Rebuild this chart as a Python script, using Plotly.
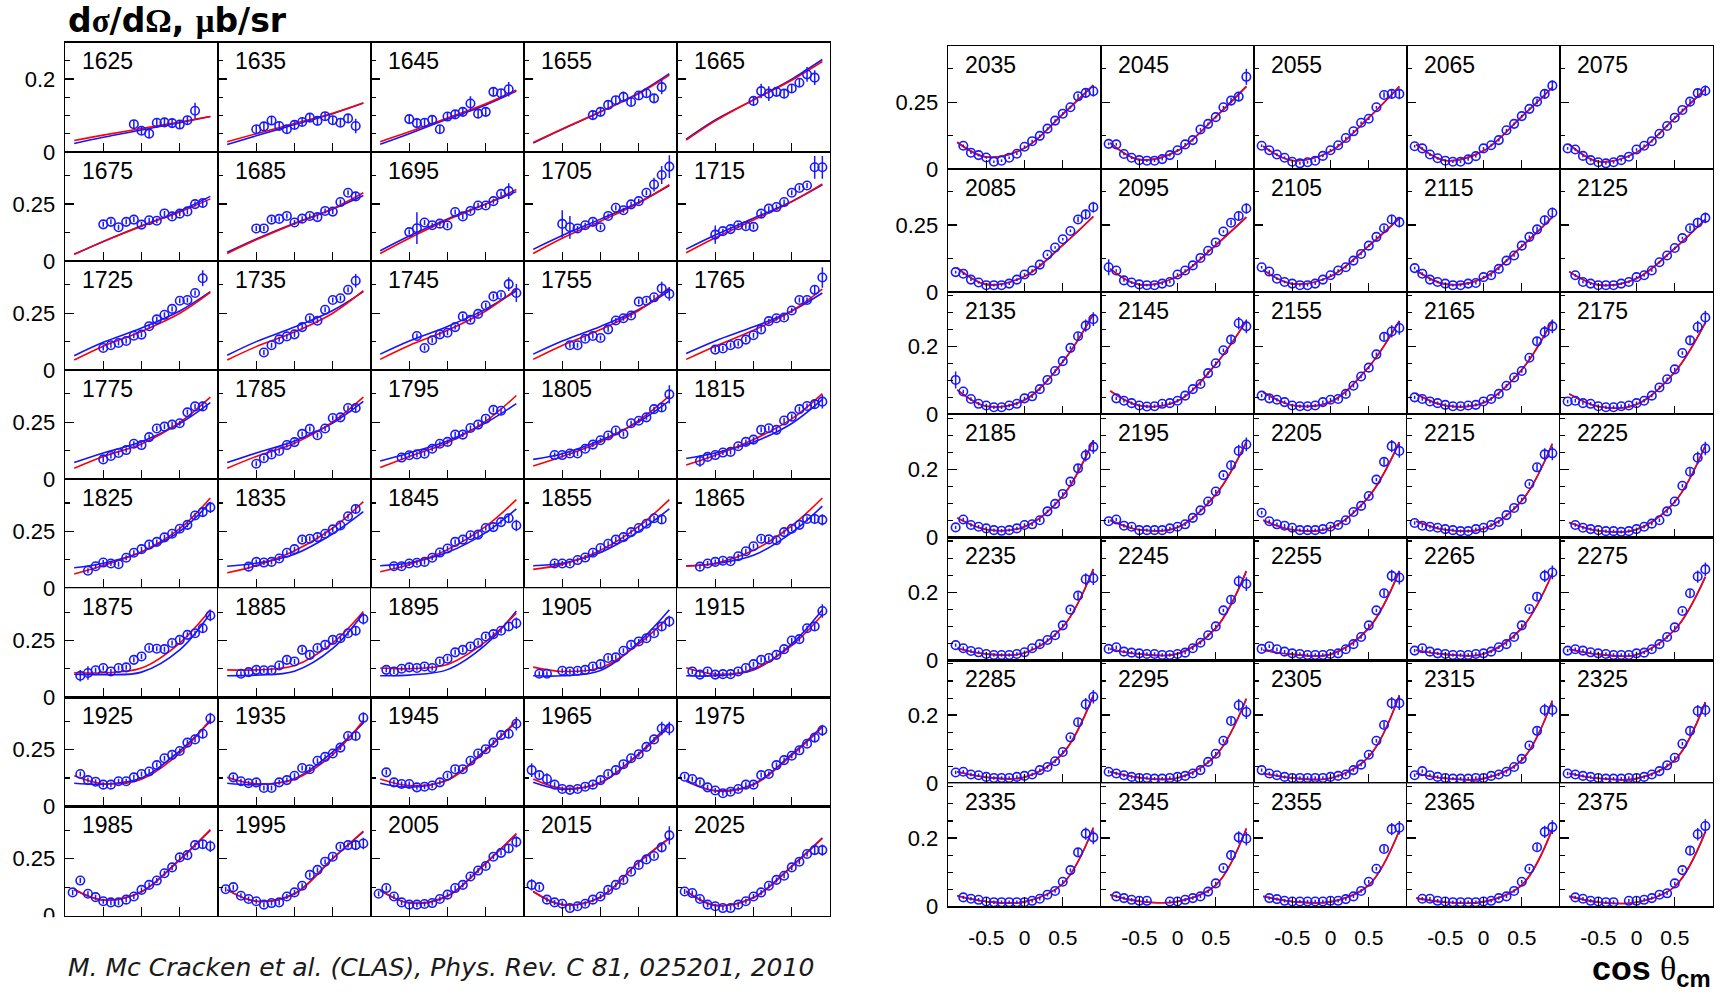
import plotly.graph_objects as go

W_PX, H_PX = 1723, 994

# ---------------- data ----------------
LEFT_ENERGIES = [1625, 1635, 1645, 1655, 1665,
                 1675, 1685, 1695, 1705, 1715,
                 1725, 1735, 1745, 1755, 1765,
                 1775, 1785, 1795, 1805, 1815,
                 1825, 1835, 1845, 1855, 1865,
                 1875, 1885, 1895, 1905, 1915,
                 1925, 1935, 1945, 1965, 1975,
                 1985, 1995, 2005, 2015, 2025]
RIGHT_ENERGIES = [2035, 2045, 2055, 2065, 2075,
                  2085, 2095, 2105, 2115, 2125,
                  2135, 2145, 2155, 2165, 2175,
                  2185, 2195, 2205, 2215, 2225,
                  2235, 2245, 2255, 2265, 2275,
                  2285, 2295, 2305, 2315, 2325,
                  2335, 2345, 2355, 2365, 2375]

COS_BINS = [-0.9, -0.8, -0.7, -0.6, -0.5, -0.4, -0.3, -0.2, -0.1, 0.0,
            0.1, 0.2, 0.3, 0.4, 0.5, 0.6, 0.7, 0.8, 0.9]

# energy -> (first cos bin, d sigma / d Omega values in consecutive bins)
DATA = {
    1625: (-0.1, [0.076, 0.058, 0.050, 0.080, 0.081, 0.079, 0.075, 0.087, 0.113]),
    1635: (-0.5, [0.062, 0.070, 0.086, 0.071, 0.062, 0.074, 0.082, 0.094, 0.085, 0.098, 0.087, 0.080, 0.092, 0.071]),
    1645: (-0.5, [0.090, 0.079, 0.080, 0.088, 0.062, 0.097, 0.103, 0.110, 0.133, 0.105, 0.110, 0.165, 0.161, 0.172]),
    1655: (-0.1, [0.101, 0.110, 0.129, 0.142, 0.151, 0.137, 0.155, 0.161, 0.147, 0.178]),
    1665: (0.0, [0.140, 0.167, 0.160, 0.165, 0.160, 0.174, 0.190, 0.213, 0.204]),
    1675: (-0.5, [0.161, 0.172, 0.148, 0.172, 0.182, 0.160, 0.179, 0.177, 0.209, 0.196, 0.208, 0.218, 0.250, 0.255]),
    1685: (-0.5, [0.143, 0.143, 0.182, 0.185, 0.198, 0.169, 0.186, 0.198, 0.193, 0.220, 0.217, 0.259, 0.300, 0.284]),
    1695: (-0.5, [0.127, 0.144, 0.169, 0.157, 0.164, 0.156, 0.215, 0.196, 0.220, 0.244, 0.244, 0.263, 0.295, 0.307]),
    1705: (-0.5, [0.163, 0.148, 0.143, 0.157, 0.172, 0.148, 0.198, 0.234, 0.223, 0.249, 0.263, 0.300, 0.336, 0.378, 0.415]),
    1715: (-0.5, [0.116, 0.131, 0.140, 0.157, 0.153, 0.150, 0.208, 0.230, 0.237, 0.259, 0.300, 0.321, 0.332, 0.412, 0.412]),
    1725: (-0.5, [0.097, 0.109, 0.119, 0.128, 0.151, 0.156, 0.193, 0.223, 0.243, 0.269, 0.305, 0.308, 0.339, 0.404]),
    1735: (-0.4, [0.077, 0.109, 0.135, 0.148, 0.157, 0.189, 0.228, 0.217, 0.265, 0.308, 0.316, 0.353, 0.393]),
    1745: (-0.4, [0.150, 0.097, 0.131, 0.157, 0.164, 0.189, 0.236, 0.221, 0.247, 0.284, 0.324, 0.330, 0.378, 0.339]),
    1755: (-0.4, [0.109, 0.109, 0.138, 0.150, 0.141, 0.179, 0.218, 0.228, 0.240, 0.301, 0.305, 0.320, 0.359, 0.335]),
    1765: (-0.5, [0.090, 0.095, 0.109, 0.116, 0.134, 0.153, 0.179, 0.215, 0.228, 0.231, 0.262, 0.308, 0.308, 0.353, 0.407]),
    1775: (-0.5, [0.087, 0.102, 0.115, 0.128, 0.156, 0.150, 0.185, 0.223, 0.231, 0.240, 0.246, 0.294, 0.320, 0.320]),
    1785: (-0.5, [0.068, 0.092, 0.109, 0.124, 0.150, 0.163, 0.199, 0.221, 0.193, 0.223, 0.269, 0.272, 0.313, 0.313]),
    1795: (-0.6, [0.095, 0.105, 0.109, 0.112, 0.134, 0.156, 0.164, 0.196, 0.196, 0.225, 0.240, 0.266, 0.305, 0.301]),
    1805: (-0.6, [0.106, 0.106, 0.113, 0.113, 0.134, 0.152, 0.171, 0.192, 0.214, 0.199, 0.246, 0.257, 0.272, 0.308, 0.315, 0.373]),
    1815: (-0.7, [0.080, 0.098, 0.106, 0.117, 0.120, 0.145, 0.164, 0.174, 0.217, 0.224, 0.217, 0.258, 0.275, 0.308, 0.322, 0.330, 0.341]),
    1825: (-0.7, [0.077, 0.097, 0.113, 0.109, 0.106, 0.134, 0.156, 0.172, 0.192, 0.204, 0.224, 0.240, 0.262, 0.279, 0.320, 0.335, 0.356]),
    1835: (-0.6, [0.095, 0.116, 0.113, 0.116, 0.131, 0.156, 0.172, 0.214, 0.218, 0.225, 0.240, 0.259, 0.276, 0.317, 0.349]),
    1845: (-0.7, [0.097, 0.097, 0.109, 0.112, 0.116, 0.134, 0.157, 0.175, 0.204, 0.214, 0.233, 0.236, 0.265, 0.269, 0.291, 0.308, 0.276]),
    1855: (-0.6, [0.109, 0.109, 0.109, 0.124, 0.135, 0.156, 0.177, 0.196, 0.214, 0.225, 0.247, 0.265, 0.284, 0.308, 0.303]),
    1865: (-0.7, [0.095, 0.109, 0.116, 0.121, 0.119, 0.141, 0.163, 0.185, 0.218, 0.215, 0.211, 0.247, 0.262, 0.279, 0.305, 0.305, 0.301]),
    1875: (-0.8, [0.095, 0.107, 0.119, 0.129, 0.114, 0.129, 0.132, 0.165, 0.180, 0.217, 0.214, 0.212, 0.239, 0.253, 0.275, 0.282, 0.304, 0.360]),
    1885: (-0.7, [0.104, 0.111, 0.121, 0.119, 0.119, 0.140, 0.165, 0.158, 0.209, 0.187, 0.217, 0.231, 0.253, 0.260, 0.282, 0.293, 0.345]),
    1895: (-0.8, [0.121, 0.114, 0.126, 0.132, 0.129, 0.136, 0.129, 0.158, 0.170, 0.198, 0.209, 0.224, 0.239, 0.268, 0.278, 0.293, 0.312, 0.326]),
    1905: (-0.8, [0.104, 0.104, None, 0.117, 0.114, 0.117, 0.121, 0.136, 0.146, 0.173, 0.176, 0.205, 0.231, 0.246, 0.260, 0.282, 0.312, 0.334]),
    1915: (-0.8, [0.114, 0.100, 0.114, 0.100, 0.102, 0.102, 0.114, 0.129, 0.146, 0.165, 0.173, 0.187, 0.212, 0.250, 0.256, 0.304, 0.312, 0.380]),
    1925: (-0.8, [0.143, 0.116, 0.109, 0.096, 0.096, 0.111, 0.111, 0.128, 0.143, 0.154, 0.182, 0.212, 0.227, 0.244, 0.281, 0.295, 0.320, 0.387]),
    1935: (-0.8, [0.128, 0.111, 0.102, 0.106, 0.081, 0.081, 0.106, 0.116, 0.135, 0.169, 0.164, 0.201, 0.218, 0.233, 0.259, 0.310, 0.310, 0.390]),
    1945: (-0.8, [0.150, 0.106, 0.099, 0.099, 0.084, 0.087, 0.092, 0.106, 0.135, 0.164, 0.164, 0.201, 0.233, 0.252, 0.281, 0.314, 0.320, 0.364]),
    1965: (-0.9, [0.160, 0.138, 0.121, 0.096, 0.077, 0.073, 0.077, 0.087, 0.096, 0.116, 0.143, 0.160, 0.186, 0.212, 0.230, 0.262, 0.295, 0.343, 0.343]),
    1975: (-0.9, [0.131, 0.121, 0.106, 0.084, 0.070, 0.058, 0.065, 0.077, 0.096, 0.096, 0.138, 0.143, 0.182, 0.204, 0.223, 0.247, 0.276, 0.303, 0.335]),
    1985: (-0.9, [0.102, 0.154, 0.096, 0.081, 0.063, 0.058, 0.058, 0.070, 0.084, 0.113, 0.135, 0.154, 0.186, 0.212, 0.256, 0.266, 0.310, 0.314, 0.305]),
    1995: (-0.9, [0.116, 0.125, 0.087, 0.073, 0.063, 0.048, 0.055, 0.058, 0.084, 0.102, 0.131, 0.179, 0.201, 0.237, 0.259, 0.303, 0.310, 0.310, 0.317]),
    2005: (-0.9, [0.096, 0.121, 0.084, 0.058, 0.048, 0.048, 0.051, 0.055, 0.073, 0.092, 0.121, 0.135, 0.172, 0.198, 0.218, 0.259, 0.276, 0.295, 0.324]),
    2015: (-0.9, [0.135, 0.125, 0.070, 0.058, 0.052, 0.033, 0.041, 0.052, 0.070, 0.084, 0.113, 0.135, 0.157, 0.193, 0.223, 0.247, 0.262, 0.300, 0.353]),
    2025: (-0.9, [0.106, 0.099, 0.073, 0.048, 0.041, 0.033, 0.033, 0.048, 0.063, 0.084, 0.102, 0.131, 0.157, 0.175, 0.212, 0.237, 0.271, 0.288, 0.288]),
    2035: (-0.8, [0.087, 0.061, 0.052, 0.043, 0.027, 0.031, 0.042, 0.057, 0.083, 0.104, 0.124, 0.151, 0.181, 0.207, 0.231, 0.272, 0.285, 0.291]),
    2045: (-0.9, [0.094, 0.092, 0.056, 0.042, 0.033, 0.031, 0.031, 0.037, 0.052, 0.070, 0.092, 0.108, 0.148, 0.169, 0.194, 0.231, 0.256, 0.271, 0.345]),
    2055: (-0.9, [0.087, 0.070, 0.054, 0.042, 0.027, 0.021, 0.025, 0.031, 0.049, 0.070, 0.089, 0.116, 0.141, 0.173, 0.188, 0.231, 0.277, 0.281, 0.281]),
    2065: (-0.9, [0.085, 0.077, 0.054, 0.040, 0.031, 0.027, 0.027, 0.036, 0.048, 0.077, 0.089, 0.108, 0.145, 0.169, 0.198, 0.225, 0.252, 0.281, 0.312]),
    2075: (-0.9, [0.077, 0.073, 0.049, 0.033, 0.025, 0.021, 0.025, 0.033, 0.046, 0.073, 0.087, 0.104, 0.132, 0.161, 0.192, 0.221, 0.252, 0.284, 0.293]),
    2085: (-0.9, [0.074, 0.068, 0.046, 0.035, 0.025, 0.025, 0.025, 0.031, 0.046, 0.065, 0.080, 0.102, 0.139, 0.166, 0.197, 0.228, 0.271, 0.290, 0.317]),
    2095: (-0.9, [0.092, 0.080, 0.043, 0.035, 0.028, 0.025, 0.025, 0.031, 0.037, 0.065, 0.080, 0.099, 0.127, 0.154, 0.185, 0.226, 0.259, 0.284, 0.312]),
    2105: (-0.9, [0.092, 0.076, 0.049, 0.037, 0.031, 0.025, 0.025, 0.031, 0.046, 0.062, 0.080, 0.092, 0.117, 0.142, 0.173, 0.206, 0.238, 0.271, 0.261]),
    2115: (-0.9, [0.089, 0.068, 0.046, 0.037, 0.031, 0.025, 0.025, 0.031, 0.033, 0.055, 0.062, 0.086, 0.117, 0.136, 0.173, 0.206, 0.234, 0.268, 0.296]),
    2125: (-0.8, [0.062, 0.037, 0.031, 0.025, 0.025, 0.025, 0.031, 0.037, 0.055, 0.062, 0.080, 0.111, 0.136, 0.164, 0.201, 0.238, 0.259, 0.277]),
    2135: (-0.9, [0.102, 0.068, 0.046, 0.032, 0.027, 0.022, 0.022, 0.027, 0.032, 0.048, 0.054, 0.075, 0.102, 0.128, 0.157, 0.196, 0.230, 0.261, 0.280]),
    2145: (-0.8, [0.048, 0.041, 0.034, 0.027, 0.024, 0.025, 0.032, 0.034, 0.041, 0.056, 0.075, 0.090, 0.122, 0.151, 0.189, 0.220, 0.268, 0.259]),
    2155: (-0.9, [0.056, 0.048, 0.044, 0.037, 0.027, 0.025, 0.025, 0.027, 0.037, 0.044, 0.046, 0.061, 0.085, 0.112, 0.138, 0.177, 0.228, 0.244, 0.254]),
    2165: (-0.9, [0.051, 0.046, 0.039, 0.034, 0.029, 0.025, 0.025, 0.027, 0.029, 0.039, 0.046, 0.061, 0.085, 0.109, 0.128, 0.167, 0.215, 0.242, 0.259]),
    2175: (-0.9, [0.039, 0.041, 0.034, 0.032, 0.025, 0.022, 0.022, 0.025, 0.027, 0.034, 0.041, 0.056, 0.080, 0.104, 0.133, 0.181, 0.218, 0.257, 0.285]),
    2185: (-0.9, [0.030, 0.053, 0.037, 0.032, 0.027, 0.022, 0.020, 0.022, 0.027, 0.037, 0.039, 0.051, 0.077, 0.099, 0.128, 0.164, 0.203, 0.241, 0.266]),
    2195: (-0.9, [0.048, 0.053, 0.035, 0.032, 0.022, 0.022, 0.022, 0.022, 0.027, 0.032, 0.039, 0.058, 0.080, 0.106, 0.135, 0.183, 0.212, 0.254, 0.273]),
    2205: (-0.9, [0.073, 0.048, 0.039, 0.035, 0.029, 0.022, 0.022, 0.022, 0.025, 0.032, 0.037, 0.051, 0.075, 0.093, 0.122, 0.170, 0.222, 0.268, 0.254]),
    2215: (-0.9, [0.043, 0.035, 0.032, 0.029, 0.025, 0.022, 0.019, 0.019, 0.025, 0.029, 0.037, 0.046, 0.066, 0.087, 0.112, 0.157, 0.206, 0.244, 0.247]),
    2225: (-0.8, [0.037, 0.029, 0.025, 0.022, 0.019, 0.019, 0.017, 0.019, 0.025, 0.032, 0.041, 0.051, 0.077, 0.106, 0.152, 0.193, 0.234, 0.261]),
    2235: (-0.9, [0.045, 0.036, 0.028, 0.024, 0.019, 0.016, 0.016, 0.016, 0.019, 0.024, 0.036, 0.048, 0.060, 0.074, 0.103, 0.149, 0.190, 0.238, 0.241]),
    2245: (-0.9, [0.034, 0.039, 0.026, 0.023, 0.021, 0.019, 0.019, 0.016, 0.016, 0.019, 0.023, 0.036, 0.052, 0.074, 0.100, 0.147, 0.178, 0.232, 0.224]),
    2255: (-0.9, [0.034, 0.042, 0.033, 0.026, 0.021, 0.019, 0.016, 0.016, 0.016, 0.019, 0.021, 0.033, 0.048, 0.069, 0.103, 0.147, 0.197, 0.248, 0.243]),
    2265: (-0.9, [0.029, 0.036, 0.026, 0.021, 0.019, 0.016, 0.016, 0.016, 0.019, 0.021, 0.026, 0.039, 0.048, 0.069, 0.103, 0.151, 0.187, 0.248, 0.258]),
    2275: (-0.9, [0.029, 0.033, 0.029, 0.024, 0.021, 0.019, 0.016, 0.016, 0.016, 0.021, 0.023, 0.033, 0.048, 0.069, 0.097, 0.145, 0.197, 0.246, 0.267]),
    2285: (-0.9, [0.032, 0.034, 0.026, 0.024, 0.019, 0.016, 0.016, 0.016, 0.019, 0.022, 0.026, 0.039, 0.048, 0.065, 0.092, 0.135, 0.179, 0.232, 0.254]),
    2295: (-0.9, [0.034, 0.029, 0.024, 0.019, 0.016, 0.016, 0.014, 0.014, 0.016, 0.019, 0.022, 0.029, 0.039, 0.063, 0.087, 0.125, 0.183, 0.229, 0.209]),
    2305: (-0.9, [0.039, 0.029, 0.024, 0.019, 0.016, 0.016, 0.016, 0.016, 0.016, 0.019, 0.022, 0.026, 0.039, 0.055, 0.084, 0.125, 0.171, 0.235, 0.235]),
    2315: (-0.9, [0.024, 0.036, 0.024, 0.019, 0.016, 0.014, 0.014, 0.014, 0.016, 0.016, 0.022, 0.026, 0.034, 0.048, 0.072, 0.111, 0.154, 0.215, 0.215]),
    2325: (-0.9, [0.029, 0.026, 0.022, 0.019, 0.016, 0.014, 0.014, 0.014, 0.016, 0.016, 0.019, 0.026, 0.036, 0.053, 0.075, 0.116, 0.154, 0.212, 0.215]),
    2335: (-0.8, [0.026, 0.022, 0.019, 0.014, 0.012, 0.012, 0.012, 0.012, 0.012, 0.016, 0.022, 0.034, 0.045, 0.072, 0.106, 0.158, 0.213, 0.202]),
    2345: (-0.8, [0.029, 0.024, 0.019, 0.016, 0.016, None, None, 0.014, 0.014, 0.019, 0.024, 0.029, 0.043, 0.067, 0.112, 0.150, 0.202, 0.198]),
    2355: (-0.8, [0.024, 0.021, 0.016, 0.014, 0.014, 0.014, 0.014, 0.014, 0.016, 0.016, 0.021, 0.029, 0.045, 0.072, 0.110, 0.168, 0.226, 0.230]),
    2365: (-0.8, [0.022, 0.022, 0.016, 0.014, 0.012, 0.012, 0.012, 0.012, 0.014, 0.016, 0.024, 0.029, 0.045, 0.072, 0.110, 0.173, 0.218, 0.232]),
    2375: (-0.8, [0.026, 0.022, 0.016, 0.014, 0.012, 0.012, None, 0.016, 0.016, 0.019, 0.024, 0.034, 0.038, 0.067, 0.106, 0.163, 0.211, 0.235]),
}

# model curves, sampled at these cos(theta) values
CURVE_COS = [-0.88, -0.5, 0.0, 0.5, 0.9]
RED = {
    1625: [0.031, 0.046, 0.064, 0.082, 0.097], 1635: [0.028, 0.050, 0.078, 0.106, 0.134],
    1645: [0.028, 0.055, 0.093, 0.132, 0.170], 1655: [0.026, 0.063, 0.110, 0.160, 0.211],
    1665: [0.032, 0.085, 0.143, 0.197, 0.248],
    1675: [0.029, 0.085, 0.153, 0.215, 0.273], 1685: [0.033, 0.093, 0.164, 0.230, 0.300],
    1695: [0.033, 0.100, 0.180, 0.250, 0.314], 1705: [0.033, 0.100, 0.175, 0.255, 0.335],
    1715: [0.036, 0.102, 0.180, 0.260, 0.339],
    1725: [0.044, 0.105, 0.170, 0.250, 0.342], 1735: [0.044, 0.103, 0.167, 0.250, 0.349],
    1745: [0.047, 0.108, 0.175, 0.260, 0.356], 1755: [0.047, 0.108, 0.178, 0.262, 0.361],
    1765: [0.047, 0.105, 0.175, 0.260, 0.356],
    1775: [0.048, 0.100, 0.155, 0.250, 0.361], 1785: [0.048, 0.100, 0.158, 0.252, 0.361],
    1795: [0.051, 0.100, 0.160, 0.255, 0.368], 1805: [0.058, 0.100, 0.163, 0.258, 0.366],
    1815: [0.062, 0.105, 0.174, 0.265, 0.376],
    1825: [0.063, 0.100, 0.160, 0.262, 0.397], 1835: [0.068, 0.100, 0.165, 0.265, 0.381],
    1845: [0.073, 0.105, 0.170, 0.272, 0.390], 1855: [0.083, 0.105, 0.167, 0.272, 0.390],
    1865: [0.097, 0.110, 0.167, 0.275, 0.397],
    1875: [0.108, 0.108, 0.129, 0.239, 0.385], 1885: [0.121, 0.121, 0.140, 0.240, 0.378],
    1895: [0.129, 0.126, 0.145, 0.245, 0.370], 1905: [0.133, 0.114, 0.130, 0.235, 0.356],
    1915: [0.130, 0.102, 0.125, 0.228, 0.363],
    1925: [0.135, 0.100, 0.120, 0.235, 0.383], 1935: [0.128, 0.100, 0.120, 0.228, 0.378],
    1945: [0.121, 0.092, 0.115, 0.245, 0.378], 1965: [0.121, 0.080, 0.105, 0.228, 0.353],
    1975: [0.116, 0.068, 0.095, 0.225, 0.349],
    1985: [0.116, 0.068, 0.105, 0.245, 0.378], 1995: [0.113, 0.063, 0.095, 0.250, 0.372],
    2005: [0.113, 0.055, 0.085, 0.230, 0.361], 2015: [0.106, 0.048, 0.080, 0.235, 0.339],
    2025: [0.109, 0.045, 0.078, 0.215, 0.339],
    2035: [0.100, 0.045, 0.078, 0.205, 0.314], 2045: [0.098, 0.035, 0.068, 0.195, 0.309],
    2055: [0.085, 0.032, 0.066, 0.192, 0.309], 2065: [0.092, 0.032, 0.068, 0.196, 0.305],
    2075: [0.092, 0.028, 0.062, 0.190, 0.300],
    2085: [0.090, 0.028, 0.058, 0.175, 0.282], 2095: [0.086, 0.027, 0.058, 0.175, 0.280],
    2105: [0.082, 0.030, 0.058, 0.172, 0.275], 2115: [0.080, 0.029, 0.052, 0.170, 0.280],
    2125: [0.076, 0.026, 0.050, 0.163, 0.272],
    2135: [0.073, 0.025, 0.043, 0.155, 0.295], 2145: [0.070, 0.027, 0.040, 0.148, 0.275],
    2155: [0.066, 0.028, 0.038, 0.140, 0.275], 2165: [0.061, 0.027, 0.035, 0.132, 0.275],
    2175: [0.061, 0.024, 0.030, 0.125, 0.270],
    2185: [0.058, 0.024, 0.032, 0.122, 0.285], 2195: [0.051, 0.023, 0.030, 0.126, 0.280],
    2205: [0.051, 0.023, 0.028, 0.120, 0.280], 2215: [0.048, 0.023, 0.026, 0.108, 0.275],
    2225: [0.044, 0.020, 0.024, 0.105, 0.270],
    2235: [0.036, 0.019, 0.022, 0.098, 0.268], 2245: [0.034, 0.019, 0.020, 0.095, 0.262],
    2255: [0.030, 0.018, 0.018, 0.095, 0.262], 2265: [0.030, 0.018, 0.019, 0.095, 0.255],
    2275: [0.033, 0.018, 0.017, 0.090, 0.245],
    2285: [0.034, 0.018, 0.018, 0.088, 0.258], 2295: [0.034, 0.017, 0.016, 0.082, 0.248],
    2305: [0.030, 0.016, 0.015, 0.078, 0.258], 2315: [0.029, 0.015, 0.014, 0.068, 0.242],
    2325: [0.029, 0.015, 0.014, 0.068, 0.238],
    2335: [0.031, 0.014, 0.013, 0.066, 0.230], 2345: [0.034, 0.015, 0.014, 0.062, 0.228],
    2355: [0.029, 0.014, 0.013, 0.062, 0.222], 2365: [0.024, 0.012, 0.013, 0.062, 0.226],
    2375: [0.029, 0.012, 0.012, 0.058, 0.218],
}
BLUE = {
    1625: [0.023, 0.040, 0.060, 0.080, 0.097], 1635: [0.020, 0.044, 0.075, 0.105, 0.134],
    1645: [0.021, 0.050, 0.090, 0.129, 0.167], 1655: [0.024, 0.062, 0.110, 0.162, 0.215],
    1665: [0.035, 0.088, 0.143, 0.200, 0.254],
    1675: [0.029, 0.086, 0.155, 0.220, 0.284], 1685: [0.038, 0.097, 0.166, 0.228, 0.288],
    1695: [0.045, 0.110, 0.185, 0.250, 0.305], 1705: [0.051, 0.112, 0.184, 0.258, 0.332],
    1715: [0.052, 0.114, 0.188, 0.262, 0.335],
    1725: [0.063, 0.122, 0.185, 0.260, 0.345], 1735: [0.065, 0.125, 0.189, 0.262, 0.345],
    1745: [0.070, 0.128, 0.192, 0.268, 0.349], 1755: [0.070, 0.128, 0.192, 0.266, 0.349],
    1765: [0.073, 0.128, 0.190, 0.260, 0.339],
    1775: [0.073, 0.115, 0.165, 0.245, 0.337], 1785: [0.073, 0.115, 0.168, 0.247, 0.342],
    1795: [0.080, 0.115, 0.168, 0.248, 0.332], 1805: [0.087, 0.112, 0.171, 0.252, 0.344],
    1815: [0.091, 0.115, 0.163, 0.245, 0.351],
    1825: [0.090, 0.110, 0.160, 0.250, 0.378], 1835: [0.097, 0.110, 0.150, 0.240, 0.337],
    1845: [0.099, 0.112, 0.158, 0.245, 0.349], 1855: [0.099, 0.110, 0.157, 0.250, 0.349],
    1865: [0.099, 0.108, 0.145, 0.245, 0.361],
    1875: [0.102, 0.100, 0.111, 0.209, 0.370], 1885: [0.095, 0.098, 0.115, 0.215, 0.370],
    1895: [0.095, 0.098, 0.122, 0.232, 0.380], 1905: [0.095, 0.095, 0.118, 0.243, 0.385],
    1915: [0.095, 0.095, 0.120, 0.235, 0.385],
    1925: [0.102, 0.098, 0.125, 0.245, 0.375], 1935: [0.102, 0.096, 0.122, 0.240, 0.368],
    1945: [0.102, 0.085, 0.117, 0.250, 0.372], 1965: [0.106, 0.075, 0.105, 0.233, 0.364],
    1975: [0.111, 0.070, 0.098, 0.230, 0.353],
    1985: [0.113, 0.068, 0.105, 0.247, 0.375], 1995: [0.113, 0.063, 0.097, 0.252, 0.368],
    2005: [0.110, 0.056, 0.087, 0.232, 0.358], 2015: [0.106, 0.048, 0.082, 0.235, 0.342],
    2025: [0.106, 0.045, 0.080, 0.218, 0.342],
}

# statistical error bars
ERR_LEFT = 0.011
ERR_RIGHT = 0.005
ERR_TAIL_LEFT = {0.8: 0.02, 0.9: 0.025}
ERR_TAIL_RIGHT = {0.7: 0.01, 0.8: 0.018, 0.9: 0.02}
ERR_SPECIAL = {
    1625: {0.7: 0.022}, 1645: {0.3: 0.02, 0.8: 0.02}, 1655: {0.8: 0.02, 0.3: 0.015},
    1665: {0.1: 0.02, 0.2: 0.02, 0.7: 0.02},
    1695: {-0.4: 0.07, 0.8: 0.035}, 1705: {-0.5: 0.06, -0.4: 0.05, 0.7: 0.03, 0.8: 0.04, 0.9: 0.05},
    1715: {-0.5: 0.04, 0.8: 0.05, 0.9: 0.05}, 1725: {0.8: 0.035}, 1735: {0.8: 0.03},
    1745: {0.8: 0.03, 0.9: 0.04}, 1755: {0.8: 0.03, 0.9: 0.03}, 1765: {0.9: 0.045},
    1805: {0.9: 0.04}, 1815: {-0.7: 0.025, 0.9: 0.03}, 1875: {-0.8: 0.025, -0.7: 0.03},
    1915: {0.9: 0.03}, 1945: {0.9: 0.03}, 1965: {-0.9: 0.03, -0.7: 0.025, 0.8: 0.03, 0.9: 0.03},
    2015: {-0.9: 0.025, 0.9: 0.04}, 2045: {0.9: 0.03}, 2095: {-0.9: 0.03}, 2135: {-0.9: 0.025},
}

# y-axis scale of each row of panels
LEFT_YMAX = [0.30, 0.48, 0.48, 0.48, 0.48, 0.48, 0.48, 0.48]
LEFT_YTICK = [0.2, 0.25, 0.25, 0.25, 0.25, 0.25, 0.25, 0.25]
RIGHT_YMAX = [0.46, 0.46, 0.36, 0.36, 0.36, 0.36, 0.36]
RIGHT_YTICK = [0.25, 0.25, 0.2, 0.2, 0.2, 0.2, 0.2]
X_TICKS = [-0.5, 0.0, 0.5]
X_TICKTEXT = ["-0.5", "0", "0.5"]

# ---------------- figure ----------------
BLACK = "#000000"
PT_BLUE = "rgb(25,25,255)"
LINE_BLUE = "rgb(20,20,255)"
LINE_RED = "rgb(255,0,0)"
FONT = "Liberation Sans, Arial, Helvetica, sans-serif"

GRIDS = [
    dict(energies=LEFT_ENERGIES, x0=65.0, x1=830.0, y0=43.3, y1=927.7, nrow=8,
         ymax=LEFT_YMAX, ytick=LEFT_YTICK, err=ERR_LEFT, tail=ERR_TAIL_LEFT, xlabels=False),
    dict(energies=RIGHT_ENERGIES, x0=948.0, x1=1713.0, y0=46.7, y1=918.3, nrow=7,
         ymax=RIGHT_YMAX, ytick=RIGHT_YTICK, err=ERR_RIGHT, tail=ERR_TAIL_RIGHT, xlabels=True),
]

fig = go.Figure()
layout = dict(
    width=W_PX, height=H_PX, margin=dict(l=0, r=0, t=0, b=0),
    paper_bgcolor="white", plot_bgcolor="white", showlegend=False,
    font=dict(family=FONT, color=BLACK),
)
annotations = []
shapes = []
idx = 0
for g in GRIDS:
    pw = (g["x1"] - g["x0"]) / 5.0
    ph = (g["y1"] - g["y0"]) / g["nrow"]
    for k, e in enumerate(g["energies"]):
        r, c = divmod(k, 5)
        idx += 1
        sx = "" if idx == 1 else str(idx)
        left = g["x0"] + c * pw
        top = g["y0"] + r * ph
        xd = [left / W_PX, (left + pw) / W_PX]
        yd = [1 - (top + ph) / H_PX, 1 - top / H_PX]
        ymax = g["ymax"][r]
        ytk = g["ytick"][r]
        minor_dt = 0.05 if ytk == 0.2 else 0.125
        show_x = g["xlabels"] and r == g["nrow"] - 1
        layout["xaxis" + sx] = dict(
            domain=xd, anchor="y" + sx, range=[-1, 1], fixedrange=True,
            tickmode="array", tickvals=X_TICKS, ticktext=X_TICKTEXT,
            showticklabels=show_x, ticks="inside", ticklen=9, tickwidth=1.3, tickcolor=BLACK,
            ticklabelstandoff=12,
            showline=True, mirror=True, linecolor=BLACK, linewidth=1.3,
            showgrid=False, zeroline=False,
            tickfont=dict(family=FONT, size=21, color=BLACK),
        )
        layout["yaxis" + sx] = dict(
            domain=yd, anchor="x" + sx, range=[0, ymax], fixedrange=True,
            tickmode="array", tickvals=[0, ytk], ticktext=["0", f"{ytk:g}"],
            showticklabels=(c == 0), ticks="inside", ticklen=9, tickwidth=1.3, tickcolor=BLACK,
            ticklabelstandoff=4,
            minor=dict(ticks="inside", tick0=0, dtick=minor_dt, ticklen=5, tickwidth=1.1,
                       tickcolor=BLACK, showgrid=False),
            showline=True, mirror=True, linecolor=BLACK, linewidth=1.3,
            showgrid=False, zeroline=False,
            tickfont=dict(family=FONT, size=22, color=BLACK),
        )
        # model curves
        blue_vals = BLUE.get(e, RED[e])
        fig.add_trace(go.Scatter(x=CURVE_COS, y=blue_vals, mode="lines",
                                 line=dict(color=LINE_BLUE, width=1.6, shape="spline", smoothing=1.0),
                                 xaxis="x" + sx, yaxis="y" + sx, hoverinfo="skip"))
        fig.add_trace(go.Scatter(x=CURVE_COS, y=RED[e], mode="lines",
                                 line=dict(color=LINE_RED, width=1.6, shape="spline", smoothing=1.0),
                                 xaxis="x" + sx, yaxis="y" + sx, hoverinfo="skip"))
        # data points
        start, vals = DATA[e]
        i0 = COS_BINS.index(start)
        xs, ys, es = [], [], []
        spec = ERR_SPECIAL.get(e, {})
        for i, v in enumerate(vals):
            if v is None:
                continue
            cb = COS_BINS[i0 + i]
            xs.append(cb)
            ys.append(v)
            es.append(spec.get(cb, g["tail"].get(cb, g["err"])))
        fig.add_trace(go.Scatter(
            x=xs, y=ys, mode="markers",
            marker=dict(symbol="circle-open", size=8.5, color=PT_BLUE, line=dict(width=1.6, color=PT_BLUE)),
            error_y=dict(type="data", array=es, visible=True, color=PT_BLUE, thickness=1.5, width=0),
            xaxis="x" + sx, yaxis="y" + sx, cliponaxis=True, hoverinfo="skip"))
        # energy label
        annotations.append(dict(
            x=(left + 15) / W_PX, y=1 - (top + 19) / H_PX, xref="paper", yref="paper",
            xanchor="left", yanchor="middle", showarrow=False, text=str(e),
            font=dict(family=FONT, size=23, color=BLACK)))

SERIF = "font-family:'Liberation Serif','Times New Roman',serif"
annotations.append(dict(
    x=66 / W_PX, y=1 - 21 / H_PX, xref="paper", yref="paper", xanchor="left", yanchor="middle",
    showarrow=False,
    text=(f"<b>d<span style=\"{SERIF}\">σ</span>/d<span style=\"{SERIF}\">Ω</span>, "
          f"<span style=\"{SERIF}\">μ</span>b/sr</b>"),
    font=dict(family="DejaVu Sans, Liberation Sans, sans-serif", size=33, color=BLACK)))
annotations.append(dict(
    x=66 / W_PX, y=1 - 980 / H_PX, xref="paper", yref="paper", xanchor="left", yanchor="middle",
    showarrow=False,
    text="<i>M. Mc Cracken et al. (CLAS), Phys. Rev. C 81, 025201, 2010</i>",
    font=dict(family="DejaVu Sans, Open Sans, sans-serif", size=25, color="#1a1a1a")))
annotations.append(dict(
    x=1713 / W_PX, y=1 - 983 / H_PX, xref="paper", yref="paper", xanchor="right", yanchor="middle",
    showarrow=False,
    text=f"<b>cos </b><span style=\"{SERIF}\">θ</span><sub><b>cm</b></sub>",
    font=dict(family=FONT, size=34, color=BLACK)))

# the left block is cut just below its last frame in the original figure
shapes.append(dict(type="rect", xref="paper", yref="paper", layer="above",
                   x0=0, x1=900 / W_PX, y0=1 - 945 / H_PX, y1=1 - 929.5 / H_PX,
                   fillcolor="white", line=dict(width=0)))

layout["annotations"] = annotations
layout["shapes"] = shapes
fig.update_layout(**layout)
fig.write_html(
    "out.html",
    config={"displayModeBar": False, "staticPlot": True},
    post_script="document.body.style.margin='0';document.body.style.overflow='hidden';",
)
